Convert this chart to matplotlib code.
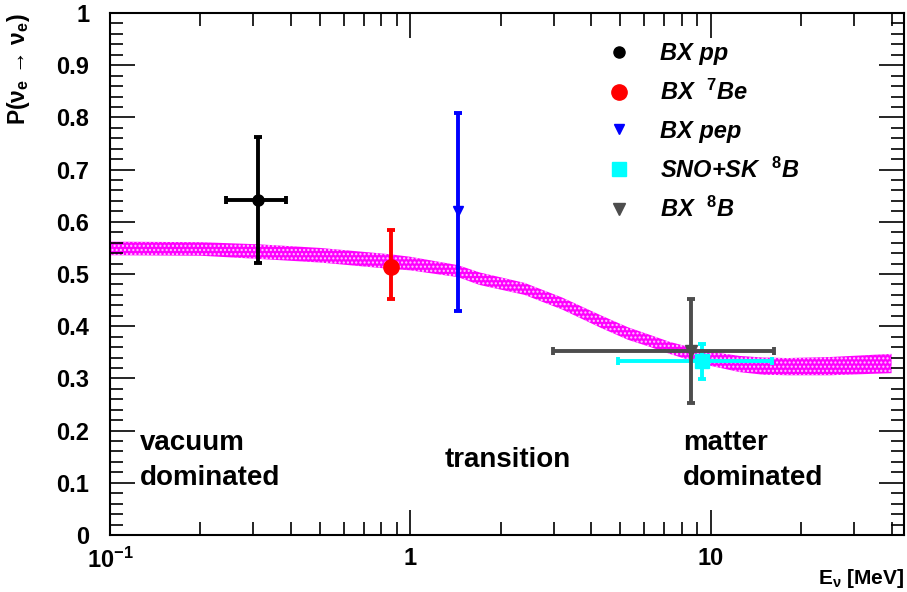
import numpy as np
import matplotlib
matplotlib.use("Agg")
import matplotlib.pyplot as plt
from matplotlib.lines import Line2D
from matplotlib.ticker import LogLocator, NullFormatter

plt.rcParams['font.family'] = ['Liberation Sans', 'DejaVu Sans']
plt.rcParams['mathtext.fontset'] = 'custom'
plt.rcParams['mathtext.rm'] = 'Liberation Sans:bold'
plt.rcParams['mathtext.it'] = 'Liberation Sans:italic:bold'
plt.rcParams['mathtext.bf'] = 'Liberation Sans:bold'
plt.rcParams['hatch.color'] = '#ffc8ff'
plt.rcParams['hatch.linewidth'] = 1.0

# ---- MSW-LMA prediction band ----
band_E = [0.1, 0.2, 0.31, 0.5, 0.85, 1.0, 1.44, 1.7, 2.4, 3.2, 4.3, 5.3, 6.3, 7.3, 8.5, 10, 12.5, 15, 18, 25, 40]
band_hi = [0.562, 0.561, 0.557, 0.550, 0.538, 0.533, 0.517, 0.503, 0.483, 0.455, 0.421, 0.398, 0.383, 0.370, 0.360, 0.351, 0.343, 0.340, 0.339, 0.341, 0.347]
band_lo = [0.536, 0.535, 0.529, 0.522, 0.510, 0.507, 0.494, 0.479, 0.460, 0.432, 0.397, 0.374, 0.360, 0.347, 0.335, 0.324, 0.312, 0.307, 0.306, 0.306, 0.310]

# ---- data points ----
labels = ['BX pp', r'BX  $^{\mathit{7}}$Be', 'BX pep', r'SNO+SK  $^{\mathit{8}}$B', r'BX  $^{\mathit{8}}$B']
pt_E = [0.31, 0.862, 1.44, 9.33, 8.58]
pt_P = [0.642, 0.513, 0.62, 0.333, 0.352]
pt_E_lo = [0.243, None, None, 4.9, 2.98]
pt_E_hi = [0.385, None, None, 15.96, 16.2]
pt_P_lo = [0.521, 0.452, 0.429, 0.299, 0.253]
pt_P_hi = [0.762, 0.584, 0.808, 0.366, 0.452]
colors = ['black', '#ff0000', '#0000ff', '#00ffff', '#4d4d4d']
markers = ['o', 'o', 'v', 's', 'v']
msizes = [8, 11, 7, 10, 9]

fig = plt.figure(figsize=(9.07, 5.92), dpi=100)
ax = fig.add_axes([0.1213, 0.0963, 0.8754, 0.8817])

ax.fill_between(band_E, band_lo, band_hi, facecolor='#ff00ff', edgecolor='#ffc8ff',
                hatch='....', linewidth=0, zorder=1)

order = [4, 3, 0, 1, 2]
for i in order:
    xe = None
    if pt_E_lo[i] is not None:
        xe = [[pt_E[i] - pt_E_lo[i]], [pt_E_hi[i] - pt_E[i]]]
    ye = [[pt_P[i] - pt_P_lo[i]], [pt_P_hi[i] - pt_P[i]]]
    ax.errorbar([pt_E[i]], [pt_P[i]], xerr=xe, yerr=ye, fmt=markers[i], color=colors[i],
                ms=msizes[i], elinewidth=2.8, capsize=3, capthick=2.8, zorder=3 + i)

ax.set_xscale('log')
ax.set_xlim(0.1, 44)
ax.set_ylim(0, 1)

ax.set_xticks([0.1, 1, 10])
ax.set_xticklabels([r'$10^{-1}$', '1', '10'])
ax.xaxis.set_minor_locator(LogLocator(base=10, subs=np.arange(2, 10), numticks=20))
ax.xaxis.set_minor_formatter(NullFormatter())
ax.set_yticks(np.arange(0, 1.01, 0.1))
ax.set_yticklabels(['0', '0.1', '0.2', '0.3', '0.4', '0.5', '0.6', '0.7', '0.8', '0.9', '1'])
ax.set_yticks(np.arange(0, 1.001, 0.02), minor=True)
ax.tick_params(which='both', direction='in', top=True, right=True, width=1.2)
ax.tick_params(which='major', length=18, labelsize=17)
ax.tick_params(which='minor', length=9.5)
ax.tick_params(axis='y', which='major', pad=15)
ax.tick_params(axis='x', which='major', pad=9)
for lab in ax.get_xticklabels() + ax.get_yticklabels():
    lab.set_fontweight('bold')
for s in ax.spines.values():
    s.set_linewidth(1.5)

ax.set_ylabel(r'P(ν$_\mathrm{e}$ → ν$_\mathrm{e}$)', fontsize=16.5, fontweight='bold', loc='top')
ax.set_xlabel(r'E$_\mathrm{ν}$ [MeV]', fontsize=15, fontweight='bold', loc='right')
ax.yaxis.set_label_coords(-0.098, 1.0)
ax.xaxis.set_label_coords(1.0, -0.062)

tk = dict(fontsize=20, fontweight='bold', ha='left', va='center')
ax.text(0.126, 0.176, 'vacuum', **tk)
ax.text(0.126, 0.109, 'dominated', **tk)
ax.text(1.30, 0.144, 'transition', **tk)
ax.text(8.07, 0.176, 'matter', **tk)
ax.text(8.07, 0.109, 'dominated', **tk)

handles = [Line2D([], [], ls='none', marker=markers[i], color=colors[i], ms=msizes[i]) for i in range(5)]
leg = ax.legend(handles, labels, loc='upper left', bbox_to_anchor=(0.6, 0.985), frameon=False,
                prop=dict(size=17, weight='bold', style='italic'), handlelength=1.0,
                handletextpad=1.2, labelspacing=0.62)

fig.savefig('out.png', dpi=100)
